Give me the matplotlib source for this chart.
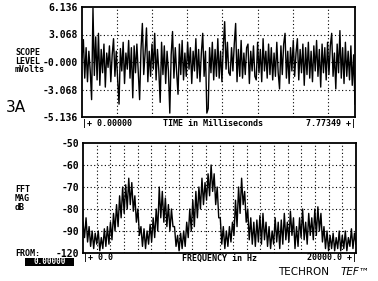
import numpy as np
import matplotlib
matplotlib.use("Agg")
import matplotlib.pyplot as plt
from matplotlib.patches import Rectangle

# ---------------- data ----------------
time_span_ms = 7.77349
scope_mv = [
    0.5, 2.5, -1.8, 1.6, -2.2, 1.2, -1.0, -4.2, 6.0, -1.5,
    2.8, -2.0, 3.2, -2.6, 1.4, -1.2, 2.0, -2.8, 1.0, -0.6,
    1.8, -2.2, 0.8, 2.6, -1.6, 1.2, -2.0, -4.7, 1.5, -1.0,
    2.2, -2.4, 1.0, -0.8, 2.4, -1.8, 1.6, -4.0, 1.8, -1.2,
    2.0, -1.0, -4.2, 1.4, 4.3, -1.4, 1.0, 3.8, -2.2, 1.2,
    -1.6, 2.0, -0.8, 3.2, -2.0, 1.4, -1.0, -4.5, 2.2, -1.4,
    1.8, -2.4, 1.2, -1.0, -5.7, 0.8, 3.4, -1.8, 1.6, -1.2,
    -3.6, 2.0, -1.4, 2.4, -2.0, 1.0, -1.6, 2.2, -0.8, 1.6,
    -2.4, 1.2, -1.0, 2.6, -1.8, 1.4, -2.2, 1.0, 3.2, -1.6,
    1.2, -5.7, -5.2, 1.6, -1.2, 2.2, -2.0, 1.4, -1.6, 2.6,
    -1.8, 1.2, -2.2, 1.8, 4.5, -0.8, 2.2, -1.2, -1.5, 1.6,
    -1.0, 2.0, 4.3, -2.2, 1.4, -1.6, 2.4, -1.8, 1.0, -1.4,
    1.6, 2.0, -2.4, 1.2, -1.0, 1.8, -1.6, -2.0, 2.2, -1.2,
    1.4, -2.2, 2.6, -1.0, 1.2, -1.8, 2.0, -1.4, 1.6, -2.0,
    1.0, -1.6, 2.2, -1.2, -3.0, 1.8, -1.4, 2.0, 3.2, -1.8,
    1.2, -2.4, 1.6, -1.0, 2.4, -1.6, 1.0, 2.6, -2.0, 1.4,
    -1.2, 2.0, -2.6, 1.6, -1.4, 2.2, -1.8, 1.2, -2.2, 1.8,
    -1.0, 2.4, -1.6, 1.4, -2.8, 2.0, -1.2, 1.6, -2.0, 2.2,
    -1.4, 1.8, 3.2, -1.6, 1.0, -3.0, 2.0, -1.2, 3.5, -1.8,
    1.6, -2.4, 2.2, -1.6, 1.2, -2.0, 1.8, -2.6, 0.8, -4.7,
]
scope_yticks = [6.136, 3.068, 0.0, -3.068, -6.136]
scope_ylabels = ["6.136", "3.068", "-0.000", "-3.068", "-5.136"]
scope_xgrid_ms = [1, 2, 3, 4, 5, 6, 7]

freq_span_hz = 20000.0
fft_db = [
    -86, -93, -84, -95, -88, -97, -90, -98, -91, -96,
    -90, -99, -93, -98, -89, -97, -88, -96, -86, -94,
    -82, -90, -78, -88, -74, -84, -70, -82, -69, -80,
    -66, -78, -68, -81, -74, -86, -80, -92, -88, -97,
    -89, -98, -90, -96, -87, -95, -84, -93, -80, -90,
    -70, -84, -72, -86, -75, -88, -78, -90, -80, -88,
    -88, -97, -92, -99, -91, -98, -90, -97, -86, -93,
    -80, -90, -76, -88, -72, -84, -70, -80, -66, -78,
    -68, -76, -64, -74, -60, -72, -64, -78, -70, -84,
    -84, -96, -88, -98, -90, -97, -88, -95, -86, -92,
    -76, -88, -70, -82, -66, -78, -72, -86, -80, -94,
    -84, -96, -86, -97, -85, -95, -83, -96, -82, -94,
    -86, -97, -88, -98, -90, -96, -84, -95, -86, -98,
    -85, -96, -82, -94, -86, -95, -81, -92, -84, -98,
    -88, -97, -84, -93, -80, -94, -86, -96, -82, -92,
    -84, -94, -80, -92, -79, -90, -82, -95, -88, -98,
    -90, -99, -92, -98, -91, -99, -93, -98, -90, -99,
    -92, -98, -90, -99, -93, -97, -89, -98, -91, -96,
]
fft_yticks = [-50, -60, -70, -80, -90, -100]
fft_ylabels = ["-50", "-60", "-70", "-80", "-90", "-120"]
fft_xgrid_hz = list(range(1000, 20000, 1000))

# ---------------- figure ----------------
W, H = 378, 281
fig = plt.figure(figsize=(W / 100, H / 100), dpi=100)
fig.patch.set_facecolor("white")

def fx(x):
    return x / W

def fy(y):
    return 1 - y / H

mono = "DejaVu Sans Mono"

ax1 = fig.add_axes([fx(82), fy(117), 273 / W, 110 / H])
ax2 = fig.add_axes([fx(83), fy(253), 273 / W, 110 / H])

for ax in (ax1, ax2):
    for s in ax.spines.values():
        s.set_linewidth(1.3)
        s.set_color("black")
    ax.tick_params(length=0, pad=3, labelcolor="black")
    ax.set_xticks([])

grid_kw = dict(color="black", lw=0.8, linestyle=(0, (1, 2.2)), zorder=1)

# top panel: scope
t = np.linspace(0, time_span_ms, len(scope_mv))
ax1.set_xlim(0, time_span_ms)
ax1.set_ylim(-6.136, 6.136)
for g in scope_xgrid_ms:
    ax1.axvline(g, **grid_kw)
for g in [3.068, 0.0, -3.068]:
    ax1.axhline(g, **grid_kw)
ax1.plot(t, scope_mv, color="black", lw=1.0, zorder=3)
ax1.set_yticks(scope_yticks)
ax1.set_yticklabels(scope_ylabels, family=mono, fontsize=7, fontweight="bold")

# bottom panel: FFT
f = np.linspace(0, freq_span_hz, len(fft_db))
ax2.set_xlim(0, freq_span_hz)
ax2.set_ylim(-100, -50)
for g in fft_xgrid_hz:
    ax2.axvline(g, **grid_kw)
for g in [-60, -70, -80, -90]:
    ax2.axhline(g, **grid_kw)
ax2.plot(f, fft_db, color="black", lw=1.0, zorder=3)
ax2.set_yticks(fft_yticks)
ax2.set_yticklabels(fft_ylabels, family=mono, fontsize=7, fontweight="bold")

# ---------------- texts ----------------
tk = dict(family=mono, fontsize=6, fontweight="bold", color="black")
for i, s in enumerate(["SCOPE", "LEVEL", "mVolts"]):
    fig.text(fx(15), fy(53 + 8.5 * i), s, va="center", ha="left", **tk)
fig.text(fx(6), fy(108), "3A", fontsize=11, va="center", ha="left",
         family="DejaVu Sans", color="black")

fig.text(fx(82), fy(123), "|+ 0.00000", va="center", ha="left", **tk)
fig.text(fx(213), fy(123), "TIME in Milliseconds", va="center", ha="center", **tk)
fig.text(fx(356), fy(123), "7.77349 +|", va="center", ha="right", **tk)

for i, s in enumerate(["FFT", "MAG", "dB"]):
    fig.text(fx(15), fy(190 + 8.5 * i), s, va="center", ha="left", **tk)
fig.text(fx(15), fy(253), "FROM:", va="center", ha="left", **tk)
fig.patches.append(Rectangle((fx(25), fy(266)), 49 / W, 8 / H,
                             transform=fig.transFigure, facecolor="black",
                             edgecolor="none"))
fig.text(fx(49.5), fy(262), "0.00000", va="center", ha="center",
         family=mono, fontsize=5.5, fontweight="bold", color="white")

fig.text(fx(83), fy(258), "|+ 0.0", va="center", ha="left", **tk)
fig.text(fx(220), fy(258), "FREQUENCY in Hz", va="center", ha="center", **tk)
fig.text(fx(357), fy(258), "20000.0 +|", va="center", ha="right", **tk)

fig.text(fx(278), fy(272), "TECHRON", va="center", ha="left",
         family="DejaVu Sans", fontsize=7.5, color="black")
fig.text(fx(341), fy(272), "TEF\u2122", va="center", ha="left",
         family="DejaVu Sans", fontsize=7.5, style="italic", color="black")

fig.savefig("out.png", dpi=100, facecolor="white")
